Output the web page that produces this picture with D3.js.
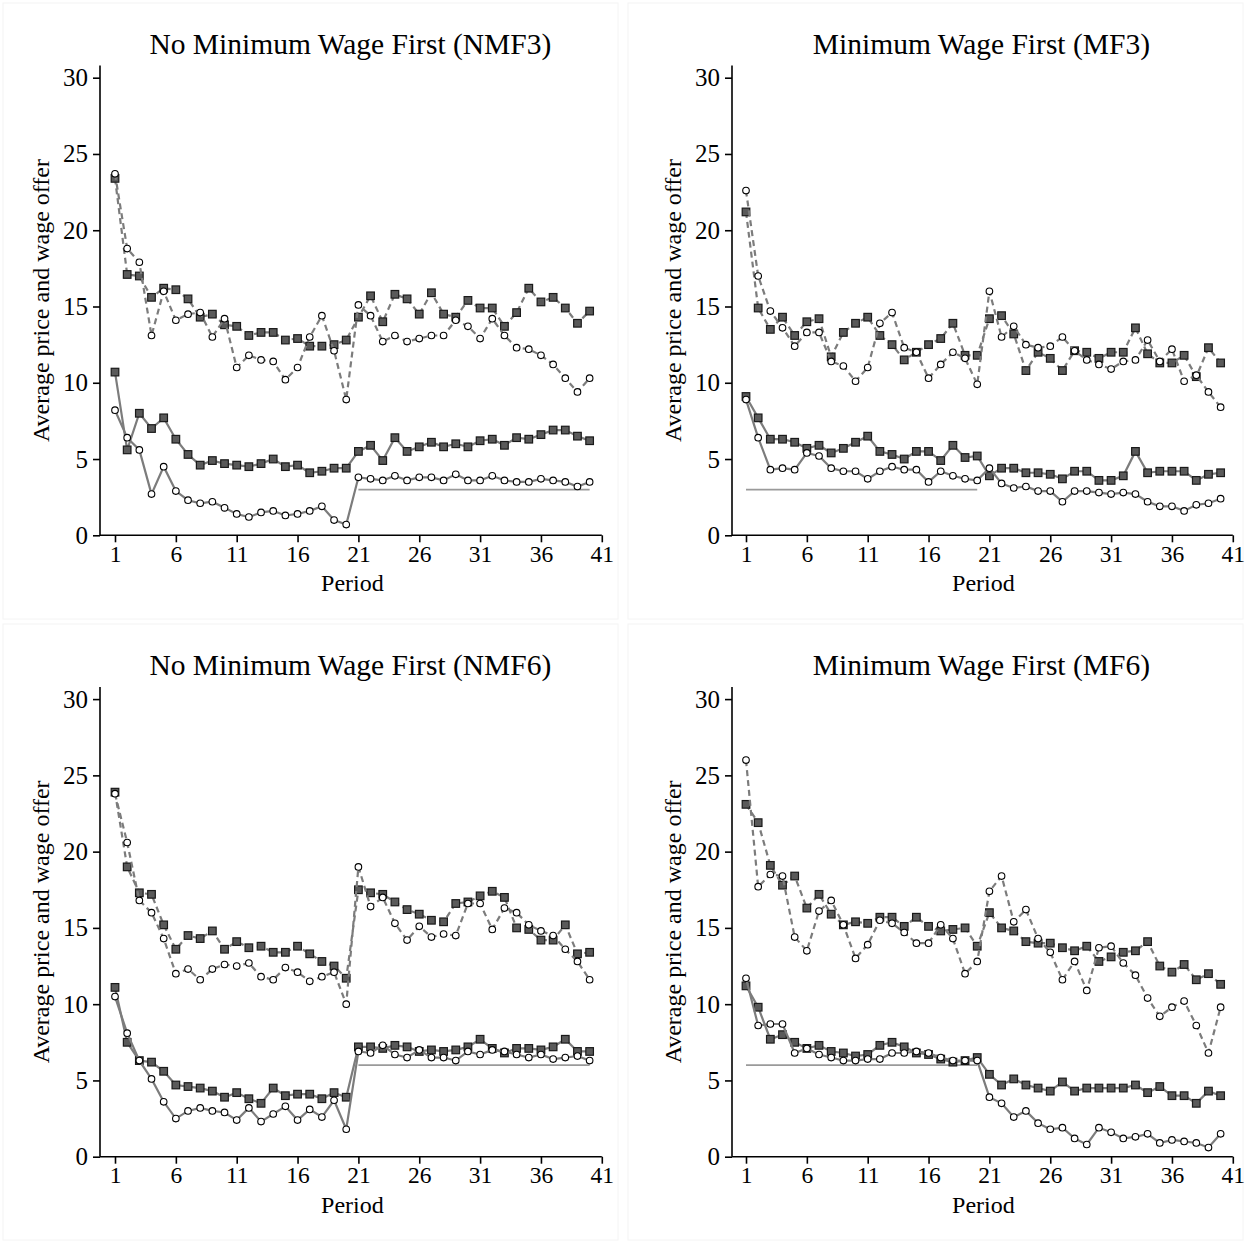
<!DOCTYPE html>
<html>
<head>
<meta charset="utf-8">
<script src="https://cdn.jsdelivr.net/npm/d3@7"></script>
<style>
  body { margin: 0; background: #fff; }
  text { font-family: "Liberation Serif", "Times New Roman", serif; fill: #000; }
</style>
</head>
<body>
<svg id="chart"></svg>
<script>
// periods 1..40
const periods = d3.range(1, 41)
const yTicks = [0, 5, 10, 15, 20, 25, 30]
const xTicks = [1, 6, 11, 16, 21, 26, 31, 36, 41]

// NMF3
const nmf3PriceSq = [23.4,17.1,17.0,15.6,16.2,16.1,15.5,14.3,14.5,13.8,13.7,13.1,13.3,13.3,12.8,12.9,12.4,12.4,12.5,12.8,14.3,15.7,14.0,15.8,15.5,14.5,15.9,14.5,14.3,15.4,14.9,14.9,13.7,14.6,16.2,15.3,15.6,14.9,13.9,14.7]
const nmf3PriceCi = [23.7,18.8,17.9,13.1,16.0,14.1,14.5,14.6,13.0,14.2,11.0,11.8,11.5,11.4,10.2,11.0,13.0,14.4,12.1,8.9,15.1,14.4,12.7,13.1,12.7,12.9,13.1,13.1,14.1,13.7,12.9,14.2,13.1,12.3,12.2,11.8,11.2,10.3,9.4,10.3]
const nmf3WageSq = [10.7,5.6,8.0,7.0,7.7,6.3,5.3,4.6,4.9,4.7,4.6,4.5,4.7,5.0,4.5,4.6,4.1,4.2,4.4,4.4,5.5,5.9,4.9,6.4,5.5,5.8,6.1,5.8,6.0,5.8,6.2,6.3,5.9,6.4,6.3,6.6,6.9,6.9,6.5,6.2]
const nmf3WageCi = [8.2,6.4,5.6,2.7,4.5,2.9,2.3,2.1,2.2,1.8,1.4,1.2,1.5,1.6,1.3,1.4,1.6,1.9,1.0,0.7,3.8,3.7,3.6,3.9,3.6,3.8,3.8,3.6,4.0,3.6,3.6,3.9,3.6,3.5,3.5,3.7,3.6,3.5,3.2,3.5]

// MF3
const mf3PriceSq = [21.2,14.9,13.5,14.3,13.1,14.0,14.2,11.7,13.3,13.9,14.3,13.1,12.5,11.5,12.0,12.5,12.9,13.9,11.8,11.8,14.2,14.4,13.2,10.8,12.0,11.6,10.8,12.1,12.0,11.6,12.0,12.0,13.6,11.9,11.3,11.3,11.8,10.4,12.3,11.3]
const mf3PriceCi = [22.6,17.0,14.7,13.6,12.4,13.3,13.3,11.4,11.1,10.1,11.0,13.9,14.6,12.3,12.0,10.3,11.2,12.0,11.6,9.9,16.0,13.0,13.7,12.5,12.3,12.4,13.0,12.1,11.5,11.2,10.9,11.4,11.5,12.8,11.4,12.2,10.1,10.5,9.4,8.4]
const mf3WageSq = [9.1,7.7,6.3,6.3,6.1,5.7,5.9,5.4,5.7,6.1,6.5,5.5,5.3,5.0,5.5,5.5,4.9,5.9,5.1,5.2,3.9,4.4,4.4,4.1,4.1,4.0,3.7,4.2,4.2,3.6,3.6,3.9,5.5,4.1,4.2,4.2,4.2,3.6,4.0,4.1]
const mf3WageCi = [8.9,6.4,4.3,4.4,4.3,5.4,5.2,4.4,4.2,4.2,3.7,4.2,4.5,4.3,4.3,3.5,4.2,3.9,3.7,3.6,4.4,3.4,3.1,3.2,2.9,2.9,2.2,2.9,2.9,2.8,2.7,2.8,2.7,2.2,1.9,1.9,1.6,2.0,2.1,2.4]

// NMF6
const nmf6PriceSq = [23.9,19.0,17.3,17.2,15.2,13.6,14.5,14.3,14.8,13.6,14.1,13.7,13.8,13.4,13.4,13.8,13.3,12.8,12.5,11.7,17.5,17.3,17.2,16.7,16.2,15.9,15.5,15.4,16.6,16.7,17.1,17.4,17.0,15.0,14.9,14.2,14.2,15.2,13.3,13.4]
const nmf6PriceCi = [23.8,20.6,16.8,16.0,14.3,12.0,12.3,11.6,12.3,12.6,12.5,12.7,11.8,11.6,12.4,12.1,11.5,11.8,12.1,10.0,19.0,16.4,17.0,15.3,14.2,15.1,14.4,14.6,14.5,16.6,16.6,14.9,16.3,16.0,15.2,14.8,14.5,13.6,12.8,11.6]
const nmf6WageSq = [11.1,7.5,6.3,6.2,5.6,4.7,4.6,4.5,4.3,3.9,4.2,3.8,3.5,4.5,4.0,4.1,4.1,3.8,4.2,3.9,7.2,7.2,7.1,7.3,7.2,6.9,7.0,6.9,7.0,7.2,7.7,7.1,6.8,7.1,7.1,7.0,7.2,7.7,6.9,6.9]
const nmf6WageCi = [10.5,8.1,6.3,5.1,3.6,2.5,3.0,3.2,3.0,2.9,2.4,3.2,2.3,2.8,3.3,2.4,3.1,2.6,3.7,1.8,6.9,6.8,7.3,6.7,6.5,7.0,6.5,6.5,6.3,6.9,6.7,7.0,6.9,6.7,6.5,6.7,6.4,6.5,6.6,6.3]

// MF6
const mf6PriceSq = [23.1,21.9,19.1,17.8,18.4,16.3,17.2,15.9,15.2,15.4,15.3,15.7,15.7,15.1,15.7,15.1,14.8,14.9,15.0,13.8,16.0,15.0,14.8,14.1,14.0,14.0,13.7,13.5,13.8,12.8,13.1,13.4,13.5,14.1,12.5,12.1,12.6,11.6,12.0,11.3]
const mf6PriceCi = [26.0,17.7,18.5,18.4,14.4,13.5,16.1,16.8,15.2,13.0,13.9,15.5,15.3,14.7,14.0,14.0,15.2,14.3,12.0,12.8,17.4,18.4,15.4,16.2,14.3,13.4,11.6,12.8,10.9,13.7,13.8,12.7,11.9,10.4,9.2,9.8,10.2,8.6,6.8,9.8]
const mf6WageSq = [11.2,9.8,7.7,8.0,7.5,7.1,7.3,6.9,6.8,6.6,6.7,7.3,7.5,7.2,6.8,6.7,6.4,6.2,6.3,6.5,5.4,4.7,5.1,4.7,4.5,4.3,4.9,4.3,4.5,4.5,4.5,4.5,4.7,4.2,4.6,4.0,4.0,3.5,4.3,4.0]
const mf6WageCi = [11.7,8.6,8.7,8.7,6.8,7.1,6.7,6.5,6.3,6.3,6.4,6.4,6.8,6.8,6.9,6.8,6.5,6.3,6.3,6.3,3.9,3.5,2.6,3.0,2.2,1.8,1.9,1.2,0.8,1.9,1.6,1.2,1.3,1.5,0.9,1.1,1.0,0.9,0.6,1.5]

// minimum wage level and the periods it applies to
const minWage3 = 3
const minWage6 = 6

const panels = [
    { title: "No Minimum Wage First (NMF3)", axisX: 100, x0: 115, y0: 535.3, minWage: minWage3, minFrom: 21, minTo: 40,
      series: [nmf3PriceSq, nmf3PriceCi, nmf3WageSq, nmf3WageCi] },
    { title: "Minimum Wage First (MF3)", axisX: 732, x0: 746, y0: 535.3, minWage: minWage3, minFrom: 1, minTo: 20,
      series: [mf3PriceSq, mf3PriceCi, mf3WageSq, mf3WageCi] },
    { title: "No Minimum Wage First (NMF6)", axisX: 100, x0: 115, y0: 1156.7, minWage: minWage6, minFrom: 21, minTo: 40,
      series: [nmf6PriceSq, nmf6PriceCi, nmf6WageSq, nmf6WageCi] },
    { title: "Minimum Wage First (MF6)", axisX: 732, x0: 746, y0: 1156.7, minWage: minWage6, minFrom: 1, minTo: 20,
      series: [mf6PriceSq, mf6PriceCi, mf6WageSq, mf6WageCi] }
]

// style per series: dashed for prices, solid for wages; squares / circles
const styles = [
    { dash: "6,4", marker: "square" },
    { dash: "6,4", marker: "circle" },
    { dash: null, marker: "square" },
    { dash: null, marker: "circle" }
]

const svg = d3.select("#chart")
    .attr("width", 1246)
    .attr("height", 1243)

// faint panel frames
svg.append("g").selectAll("rect")
    .data([[3, 3], [628, 3], [3, 624], [628, 624]])
    .enter().append("rect")
    .attr("x", d => d[0]).attr("y", d => d[1])
    .attr("width", 615).attr("height", 616)
    .attr("fill", "none").attr("stroke", "#f4f4f4").attr("stroke-width", 1)

panels.forEach(p => {
    const x = d3.scaleLinear().domain([1, 41]).range([p.x0, p.x0 + 40 * 12.17])
    const y = d3.scaleLinear().domain([0, 30]).range([p.y0, p.y0 - 457.6])
    const g = svg.append("g")

    // title
    g.append("text")
        .attr("x", x(21) - 8)
        .attr("y", y(30) - 24)
        .attr("text-anchor", "middle")
        .style("font-size", "29.5px")
        .text(p.title)

    // y axis
    const yAxis = g.append("g")
        .attr("transform", `translate(${p.axisX},0)`)
        .call(d3.axisLeft(y).tickValues(yTicks).tickSize(7).tickPadding(5).tickSizeOuter(0))
    yAxis.select(".domain").attr("d", `M0,${y(0)}V${y(30.8)}`)
    yAxis.selectAll("line, path").attr("stroke", "#000").attr("stroke-width", 1.6)
    yAxis.selectAll("text").style("font-size", "25px").attr("fill", "#000")

    // x axis
    const xAxis = g.append("g")
        .attr("transform", `translate(0,${p.y0})`)
        .call(d3.axisBottom(x).tickValues(xTicks).tickSize(7).tickPadding(3).tickSizeOuter(0))
    xAxis.select(".domain").attr("d", `M${p.axisX},0H${x(41)}`)
    xAxis.selectAll("line, path").attr("stroke", "#000").attr("stroke-width", 1.6)
    xAxis.selectAll("text").style("font-size", "23.5px").attr("fill", "#000")

    // axis titles
    g.append("text")
        .attr("transform", `translate(${p.axisX - 51},${(y(0) + y(30)) / 2 - 6}) rotate(-90)`)
        .attr("text-anchor", "middle")
        .style("font-size", "24px")
        .text("Average price and wage offer")
    g.append("text")
        .attr("x", x(21) - 6)
        .attr("y", p.y0 + 56)
        .attr("text-anchor", "middle")
        .style("font-size", "24px")
        .text("Period")

    // minimum wage reference line
    g.append("line")
        .attr("x1", x(p.minFrom)).attr("x2", x(p.minTo))
        .attr("y1", y(p.minWage)).attr("y2", y(p.minWage))
        .attr("stroke", "#9a9a9a").attr("stroke-width", 1.8)

    const line = d3.line().x((d, i) => x(periods[i])).y(d => y(d))

    p.series.forEach((vals, k) => {
        const st = styles[k]
        g.append("path")
            .datum(vals)
            .attr("d", line)
            .attr("fill", "none")
            .attr("stroke", "#7c7c7c")
            .attr("stroke-width", 2.2)
            .attr("stroke-dasharray", st.dash)

        if (st.marker === "square") {
            g.append("g").selectAll("rect")
                .data(vals)
                .enter().append("rect")
                .attr("x", (d, i) => x(periods[i]) - 3.8)
                .attr("y", d => y(d) - 3.8)
                .attr("width", 7.6).attr("height", 7.6)
                .attr("fill", "#5a5a5a")
                .attr("stroke", "#1a1a1a").attr("stroke-width", 1.2)
        } else {
            g.append("g").selectAll("circle")
                .data(vals)
                .enter().append("circle")
                .attr("cx", (d, i) => x(periods[i]))
                .attr("cy", d => y(d))
                .attr("r", 3.3)
                .attr("fill", "#fff")
                .attr("stroke", "#000").attr("stroke-width", 1.1)
        }
    })
})
</script>
</body>
</html>
